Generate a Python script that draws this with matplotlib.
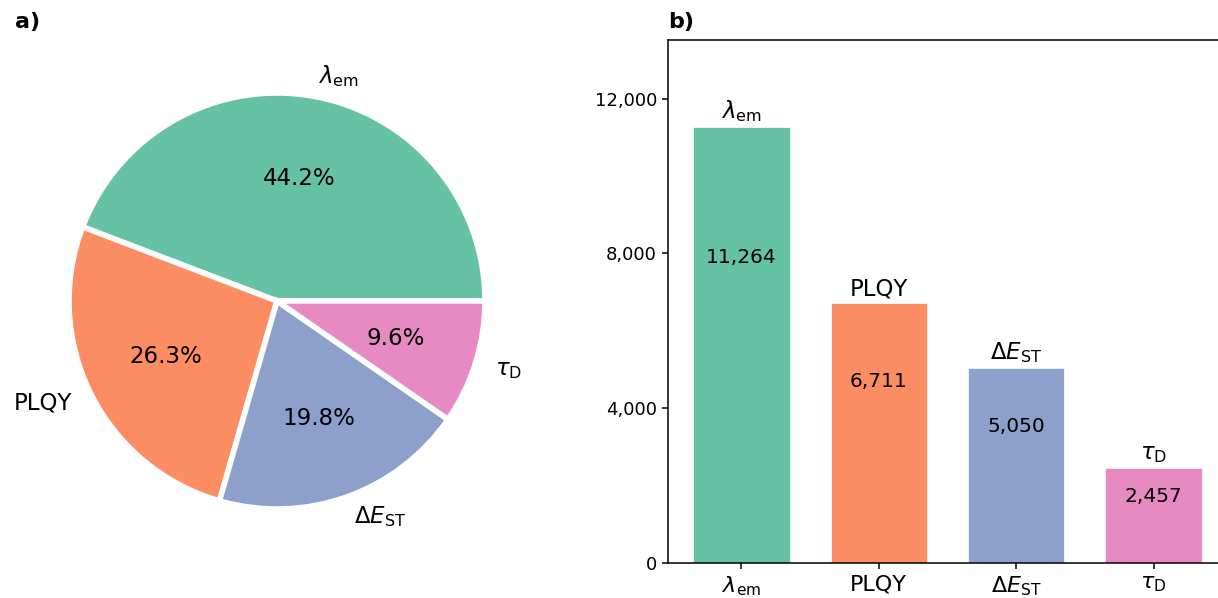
import numpy as np
import matplotlib.pyplot as plt
from matplotlib.ticker import FuncFormatter

labels = [r'$\lambda_{\mathrm{em}}$', 'PLQY', r'$\Delta E_{\mathrm{ST}}$', r'$\tau_{\mathrm{D}}$']
counts = [11264, 6711, 5050, 2457]
colors = ['#66c2a5', '#fc8d62', '#8da0cb', '#e78ac3']
yticks = [0, 4000, 8000, 12000]

fig = plt.figure(figsize=(12.18, 5.98), dpi=100)

# pie
ax1 = fig.add_axes([17 / 1218, 37 / 598, 520 / 1218, 520 / 598])
ax1.pie(counts, labels=labels, colors=colors, autopct='%1.1f%%',
        startangle=0, counterclock=True,
        wedgeprops=dict(edgecolor='white', linewidth=4),
        textprops=dict(fontsize=16.5))
ax1.set_aspect('equal')
fig.text(15 / 1218, 1 - 22 / 598, 'a)', fontsize=16, fontweight='bold',
         ha='left', va='center')

# bars
ax2 = fig.add_axes([668 / 1218, 35 / 598, 559 / 1218, 523 / 598])
x = np.arange(len(counts))
ax2.bar(x, counts, width=0.7, color=colors, edgecolor='white', linewidth=0.5)
ax2.set_ylim(0, max(counts) * 1.2)
ax2.set_xticks(x)
ax2.set_xticklabels(labels, fontsize=16)
ax2.set_yticks(yticks)
ax2.yaxis.set_major_formatter(FuncFormatter(lambda v, p: f'{int(v):,}'))
ax2.tick_params(axis='y', labelsize=13)
ax2.tick_params(width=1.1, length=4.5)
for s in ax2.spines.values():
    s.set_linewidth(1.1)
for xi, v, lab in zip(x, counts, labels):
    ax2.annotate(lab, (xi, v), xytext=(0, 2), textcoords='offset points',
                 ha='center', va='bottom', fontsize=16.5)
    ax2.text(xi, v * 0.7, f'{v:,}', ha='center', va='center', fontsize=14.5)
fig.text(668 / 1218, 1 - 22 / 598, 'b)', fontsize=16, fontweight='bold',
         ha='left', va='center')

fig.savefig('out.png', dpi=100)
